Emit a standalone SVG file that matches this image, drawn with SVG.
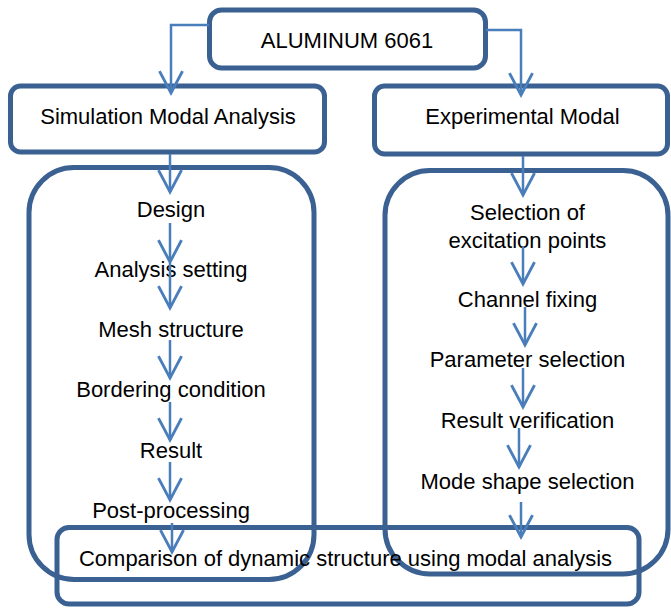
<svg xmlns="http://www.w3.org/2000/svg" width="671" height="610" viewBox="0 0 671 610">
<style>
.box{fill:none;stroke:#3B6192;stroke-width:5}
.wbox{fill:#fff;stroke:#3B6192;stroke-width:5}
.t{font-family:"Liberation Sans",Arial,sans-serif;font-size:22px;fill:#000;text-anchor:middle}
.c{fill:none;stroke:#4A7EBB;stroke-width:2.5}
</style>
<defs>
<marker id="ah" markerUnits="userSpaceOnUse" markerWidth="30" markerHeight="30" refX="0" refY="0" viewBox="-22 -13 26 26" orient="auto" overflow="visible">
<path d="M-19,-10 L0,0 L-19,10" fill="none" stroke="#4A7EBB" stroke-width="2.5"/>
</marker>
</defs>
<rect x="0" y="0" width="671" height="610" fill="#fff"/>
<g id="n-aluminum"><rect class="wbox" x="209.5" y="10" width="276" height="58" rx="12"/><text class="t" x="347" y="48">ALUMINUM 6061</text></g>
<g id="n-sim"><rect class="wbox" x="10.5" y="86" width="314" height="66" rx="10"/><text class="t" x="168" y="124">Simulation Modal Analysis</text></g>
<g id="n-exp"><rect class="wbox" x="374.5" y="86" width="293" height="68" rx="10"/><text class="t" x="522.5" y="124">Experimental Modal</text></g>
<g id="n-simgroup"><rect class="box" x="29" y="167.5" width="285" height="412" rx="45"/>
<text class="t" x="171" y="217">Design</text>
<text class="t" x="171" y="277">Analysis setting</text>
<text class="t" x="171" y="337">Mesh structure</text>
<text class="t" x="171" y="397">Bordering condition</text>
<text class="t" x="171" y="458">Result</text>
<text class="t" x="171" y="518">Post-processing</text>
</g>
<g id="n-expgroup"><rect class="box" x="385" y="170.5" width="283" height="403.5" rx="45"/>
<text class="t" x="527.5" y="220">Selection of</text>
<text class="t" x="527.5" y="248">excitation points</text>
<text class="t" x="527.5" y="307">Channel fixing</text>
<text class="t" x="527.5" y="367">Parameter selection</text>
<text class="t" x="527.5" y="428">Result verification</text>
<text class="t" x="527.5" y="489">Mode shape selection</text>
</g>
<g id="n-comparison"><rect class="box" x="57" y="527.5" width="582" height="76.5" rx="12"/><text class="t" x="345.5" y="566">Comparison of dynamic structure using modal analysis</text></g>
<g id="connectors">
<path class="c" d="M209,25 H171 V93" marker-end="url(#ah)"/>
<path class="c" d="M486,30 H521 V95" marker-end="url(#ah)"/>
<path class="c" d="M170,154 V192" marker-end="url(#ah)"/>
<path class="c" d="M170,223 V262" marker-end="url(#ah)"/>
<path class="c" d="M170,263 V308" marker-end="url(#ah)"/>
<path class="c" d="M170,340 V378" marker-end="url(#ah)"/>
<path class="c" d="M170,402 V440" marker-end="url(#ah)"/>
<path class="c" d="M170,462 V500" marker-end="url(#ah)"/>
<path class="c" d="M172,523 V552" marker-end="url(#ah)"/>
<path class="c" d="M523,156 V195" marker-end="url(#ah)"/>
<path class="c" d="M523,247 V284" marker-end="url(#ah)"/>
<path class="c" d="M525,307 V345" marker-end="url(#ah)"/>
<path class="c" d="M523,368 V407" marker-end="url(#ah)"/>
<path class="c" d="M519,428 V467" marker-end="url(#ah)"/>
<path class="c" d="M521,502 V537" marker-end="url(#ah)"/>
</g>
</svg>
